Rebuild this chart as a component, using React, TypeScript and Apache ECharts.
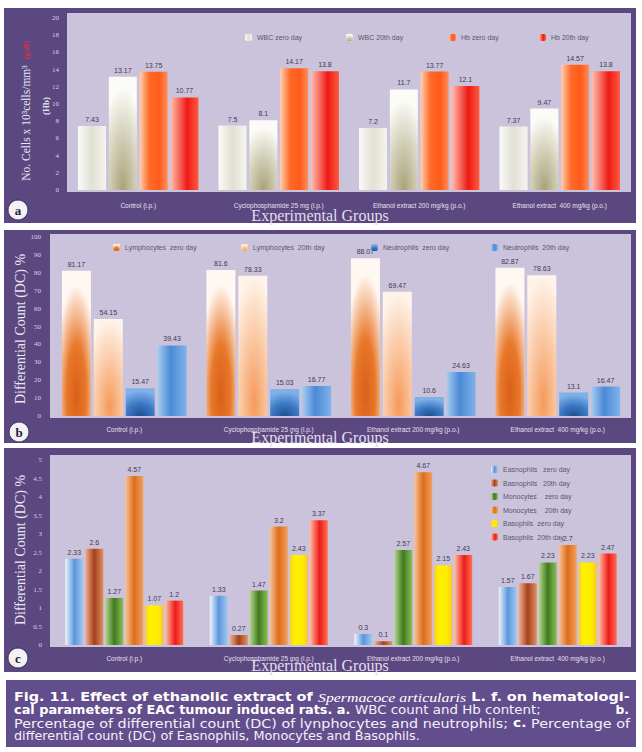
import React, { useEffect, useRef } from 'react';
import * as echarts from 'echarts';

const categories = [
  'Control (i.p.)',
  'Cyclophosphamide 25 mg (i.p.)',
  'Ethanol extract 200 mg/kg (p.o.)',
  'Ethanol extract  400 mg/kg (p.o.)',
];

// Panel a
const wbcZero = [7.43, 7.5, 7.2, 7.37];
const wbc20 = [13.17, 8.1, 11.7, 9.47];
const hbZero = [13.75, 14.17, 13.77, 14.57];
const hb20 = [10.77, 13.8, 12.1, 13.8];

// Panel b
const lymZero = [81.17, 81.6, 88.07, 82.87];
const lym20 = [54.15, 78.33, 69.47, 78.63];
const neuZero = [15.47, 15.03, 10.6, 13.1];
const neu20 = [39.43, 16.77, 24.63, 16.47];

// Panel c
const easZero = [2.33, 1.33, 0.3, 1.57];
const basn20 = [2.6, 0.27, 0.1, 1.67];
const monoZero = [1.27, 1.47, 2.57, 2.23];
const mono20 = [4.57, 3.2, 4.67, 2.7];
const basoZero = [1.07, 2.43, 2.15, 2.23];
const baso20 = [1.2, 3.37, 2.43, 2.47];

const ticksA = { min: 0, max: 20, interval: 2 };
const ticksB = { min: 0, max: 100, interval: 10 };
const ticksC = { min: 0, max: 5, interval: 0.5 };

// Caption lines: [style, text] segments
const caption1: [string, string][] = [
  ['b', 'Fig. 11. Effect of ethanolic extract of '],
  ['i', 'Spermacoce articularis'],
  ['b', ' L. f. on hematologi-'],
];
const caption2: [string, string][] = [
  ['b', 'cal parameters of EAC tumour induced rats. a.'],
  ['r', ' WBC count and Hb content;'],
];
const caption2End: [string, string][] = [['b', 'b.']];
const caption3: [string, string][] = [
  ['r', 'Percentage of differential count (DC) of lynphocytes and neutrophils; '],
  ['b', 'c.'],
  ['r', ' Percentage of'],
];
const caption4: [string, string][] = [['r', 'differential count (DC) of Easnophils, Monocytes and Basophils.']];

const PURPLE = '#5b4880';
const LAVENDER = '#cbc3dc';
const LIGHT = '#e6e0f0';

const hGrad = (stops: [number, string][]) =>
  new echarts.graphic.LinearGradient(0, 0, 1, 0, stops.map(([offset, color]) => ({ offset, color })));
const rGrad = (cx: number, cy: number, r: number, stops: [number, string][]) =>
  new echarts.graphic.RadialGradient(cx, cy, r, stops.map(([offset, color]) => ({ offset, color })));

const labelStyle = {
  show: true,
  position: 'top',
  distance: 3,
  fontSize: 7,
  color: '#3e3a52',
  fontFamily: 'Liberation Sans',
};

const bar = (name: string, data: number[], idx: number, color: any, barWidth: number, barGap: string) => ({
  type: 'bar',
  name,
  data,
  xAxisIndex: idx,
  yAxisIndex: idx,
  barWidth,
  barGap,
  itemStyle: { color },
  label: labelStyle,
  emphasis: { disabled: true },
});

const xAxis = (idx: number, margin: number) => ({
  type: 'category',
  gridIndex: idx,
  data: categories,
  axisLine: { show: false },
  axisTick: { show: false },
  axisLabel: { interval: 0, fontSize: 6.5, color: LIGHT, margin, fontFamily: 'Liberation Sans' },
});

const yAxis = (idx: number, t: any, margin: number) => ({
  type: 'value',
  gridIndex: idx,
  min: t.min,
  max: t.max,
  interval: t.interval,
  splitLine: { show: false },
  axisLine: { show: false },
  axisTick: { show: false },
  axisLabel: { fontSize: 7, color: '#d8d0e6', margin, fontFamily: 'Liberation Serif' },
});

const legendBase = {
  itemWidth: 7,
  itemHeight: 7,
  selectedMode: false,
  textStyle: { fontSize: 7, color: '#5a566c', fontFamily: 'Liberation Sans' },
};

const rotText = (x: number, y: number, text: string, fontSize: number, fill: string, extra: any = {}) => ({
  type: 'text',
  x,
  y,
  rotation: Math.PI / 2,
  style: {
    text,
    fill,
    fontSize,
    fontFamily: 'Liberation Serif',
    align: 'center',
    verticalAlign: 'middle',
    textAlign: 'center',
    textVerticalAlign: 'middle',
    ...extra,
  },
});

const plainText = (x: number, y: number, text: string, fontSize: number, fill: string, extra: any = {}) => ({
  type: 'text',
  x,
  y,
  style: {
    text,
    fill,
    fontSize,
    fontFamily: 'Liberation Serif',
    align: 'center',
    verticalAlign: 'middle',
    textAlign: 'center',
    textVerticalAlign: 'middle',
    ...extra,
  },
});

const badge = (x: number, y: number, letter: string) => ({
  type: 'group',
  children: [
    { type: 'circle', shape: { cx: x, cy: y, r: 10 }, style: { fill: '#f3f1f5', stroke: '#3a2f55', lineWidth: 1 } },
    plainText(x, y, letter, 13, '#221c36', { fontWeight: 'bold' }),
  ],
});

const CAP_FONT = 'DejaVu Sans';
const capRich: any = {
  b: { fontFamily: CAP_FONT, fontWeight: 'bold', fontSize: 12.3, fill: '#ffffff', color: '#ffffff' },
  i: { fontFamily: 'Liberation Serif', fontStyle: 'italic', fontSize: 13.5, fill: '#ffffff', color: '#ffffff' },
  r: { fontFamily: CAP_FONT, fontSize: 12.8, fill: '#f4f0fa', color: '#f4f0fa' },
};

const measure = (segs: [string, string][]) => {
  const ctx = document.createElement('canvas').getContext('2d');
  if (!ctx) return 0;
  let w = 0;
  for (const [k, t] of segs) {
    const s = capRich[k];
    ctx.font = `${s.fontStyle || 'normal'} ${s.fontWeight || 'normal'} ${s.fontSize}px "${s.fontFamily}"`;
    w += ctx.measureText(t).width;
  }
  return w;
};

const capLine = (x: number, y: number, segs: [string, string][], align = 'left', target = 0) => {
  const w = measure(segs);
  const scaleX = target > 0 && w > 0 ? Math.min(1.3, target / w) : 1;
  return {
    type: 'text',
    x,
    y,
    scaleX,
    style: {
      text: segs.map(([k, t]) => `{${k}|${t}}`).join(''),
      rich: capRich,
      fill: '#ffffff',
      fontSize: 12.5,
      fontFamily: CAP_FONT,
      align,
      textAlign: align,
      verticalAlign: 'middle',
      textVerticalAlign: 'middle',
    },
  };
};

const buildOption = (): any => ({
  animation: false,
  backgroundColor: '#ffffff',
  grid: [
    { left: 68, top: 18, width: 562, height: 172 },
    { left: 52, top: 237, width: 578, height: 179 },
    { left: 52, top: 460, width: 578, height: 185 },
  ],
  xAxis: [xAxis(0, 12), xAxis(1, 10), xAxis(2, 10)],
  yAxis: [yAxis(0, ticksA, 9), yAxis(1, ticksB, 11), yAxis(2, ticksC, 10)],
  legend: [
    { ...legendBase, left: 240, top: 29, data: ['WBC zero day'] },
    { ...legendBase, left: 341, top: 29, data: ['WBC 20th day'] },
    { ...legendBase, left: 444, top: 29, data: ['Hb zero day'] },
    { ...legendBase, left: 534, top: 29, data: ['Hb 20th day'] },
    { ...legendBase, left: 108, top: 239, data: ['Lymphocytes  zero day'] },
    { ...legendBase, left: 236, top: 239, data: ['Lymphocytes  20th day'] },
    { ...legendBase, left: 366, top: 239, data: ['Neutrophils  zero day'] },
    { ...legendBase, left: 486, top: 239, data: ['Neutrophils  20th day'] },
    {
      ...legendBase,
      left: 486,
      top: 461,
      orient: 'vertical',
      itemGap: 6.5,
      data: [
        'Easnophils   zero day',
        'Basnophils   20th day',
        'Monocytes    zero day',
        'Monocytes    20th day',
        'Basophils  zero day',
        'Basophils  20th day',
      ],
    },
  ],
  graphic: [
    // panels
    { type: 'rect', shape: { x: 4, y: 8, width: 632, height: 215 }, style: { fill: PURPLE } },
    { type: 'rect', shape: { x: 4, y: 230, width: 632, height: 213 }, style: { fill: PURPLE } },
    { type: 'rect', shape: { x: 4, y: 448, width: 632, height: 224 }, style: { fill: PURPLE } },
    { type: 'rect', shape: { x: 6, y: 680, width: 630, height: 67 }, style: { fill: '#624e8c' } },
    { type: 'rect', shape: { x: 67, y: 13, width: 564, height: 179 }, style: { fill: LAVENDER } },
    { type: 'rect', shape: { x: 50, y: 234, width: 581, height: 184 }, style: { fill: LAVENDER } },
    { type: 'rect', shape: { x: 50, y: 455, width: 581, height: 192 }, style: { fill: LAVENDER } },
    // axis titles
    rotText(26, 123, 'No. Cells x 10³cells/mm³', 11.5, '#ebe6f2'),
    rotText(26, 50, '(g/dl)', 8, '#d0304f', { fontWeight: 'bold' }),
    rotText(46, 106, '(Hb)', 9, '#ebe6f2', { fontWeight: 'bold' }),
    rotText(20, 329, 'Differential Count (DC) %', 14, '#ebe6f2'),
    rotText(20, 550, 'Differential Count (DC) %', 14, '#ebe6f2'),
    plainText(320, 215, 'Experimental Groups', 16, '#e4deee'),
    plainText(320, 437, 'Experimental Groups', 16, '#e4deee'),
    plainText(320, 665, 'Experimental Groups', 16, '#e4deee'),
    badge(18, 210, 'a'),
    badge(19, 432, 'b'),
    badge(18, 658, 'c'),
    // caption
    capLine(14, 697, caption1, 'left', 616),
    capLine(14, 710, caption2, 'left', 527),
    capLine(629, 710, caption2End, 'right'),
    capLine(14, 723, caption3, 'left', 616),
    capLine(14, 735, caption4, 'left'),
  ],
  series: [
    bar('WBC zero day', wbcZero, 0, hGrad([[0, '#fbfbf8'], [0.5, '#e0e0d4'], [1, '#f5f5ef']]), 28, '10%'),
    bar('WBC 20th day', wbc20, 0, rGrad(0.5, 1, 0.9, [[0, '#a8a278'], [0.6, '#d8d5c0'], [1, '#fbfbf7']]), 28, '10%'),
    bar('Hb zero day', hbZero, 0, hGrad([[0, '#ffd0b0'], [0.35, '#ff6a28'], [0.7, '#ff5a1a'], [1, '#ff8f5a']]), 28, '10%'),
    bar('Hb 20th day', hb20, 0, hGrad([[0, '#ffc0b0'], [0.6, '#ee1a14'], [1, '#ff5a40']]), 28, '10%'),

    bar('Lymphocytes  zero day', lymZero, 1, rGrad(0.5, 0.85, 0.75, [[0, '#d9601a'], [0.45, '#e8782a'], [1, '#fff8f2']]), 29, '10%'),
    bar('Lymphocytes  20th day', lym20, 1, rGrad(0.55, 0.9, 0.9, [[0, '#f59a5a'], [1, '#fff4ea']]), 29, '10%'),
    bar('Neutrophils  zero day', neuZero, 1, rGrad(0.5, 1, 0.9, [[0, '#1f4f8f'], [0.5, '#3a78c4'], [1, '#7fb0e8']]), 29, '10%'),
    bar('Neutrophils  20th day', neu20, 1, hGrad([[0, '#a8ccf0'], [0.45, '#4a8ad6'], [1, '#80b2ea']]), 29, '10%'),

    bar('Easnophils   zero day', easZero, 2, hGrad([[0, '#eef5fc'], [0.5, '#5a96dc'], [1, '#a5c8ee']]), 18, '11%'),
    bar('Basnophils   20th day', basn20, 2, hGrad([[0, '#f0b090'], [0.5, '#a4401c'], [1, '#e09060']]), 18, '11%'),
    bar('Monocytes    zero day', monoZero, 2, hGrad([[0, '#b6d890'], [0.5, '#3f7a1e'], [1, '#8cbf5c']]), 18, '11%'),
    bar('Monocytes    20th day', mono20, 2, hGrad([[0, '#f7c49a'], [0.5, '#de6c1a'], [1, '#f0a060']]), 18, '11%'),
    bar('Basophils  zero day', basoZero, 2, hGrad([[0, '#ffc830'], [0.25, '#fff200'], [0.75, '#ffea00'], [1, '#ffc030']]), 18, '11%'),
    bar('Basophils  20th day', baso20, 2, hGrad([[0, '#ffc0a0'], [0.55, '#ee1a1a'], [1, '#ff7050']]), 18, '11%'),
  ],
});

export default function App() {
  const ref = useRef<HTMLDivElement>(null);
  useEffect(() => {
    const chart = echarts.init(ref.current!, null, { renderer: 'svg' });
    chart.setOption(buildOption());
    return () => chart.dispose();
  }, []);
  return (
    <div
      ref={ref}
      style={{ position: 'absolute', left: 0, top: 0, width: 642, height: 752, background: '#ffffff' }}
    />
  );
}
